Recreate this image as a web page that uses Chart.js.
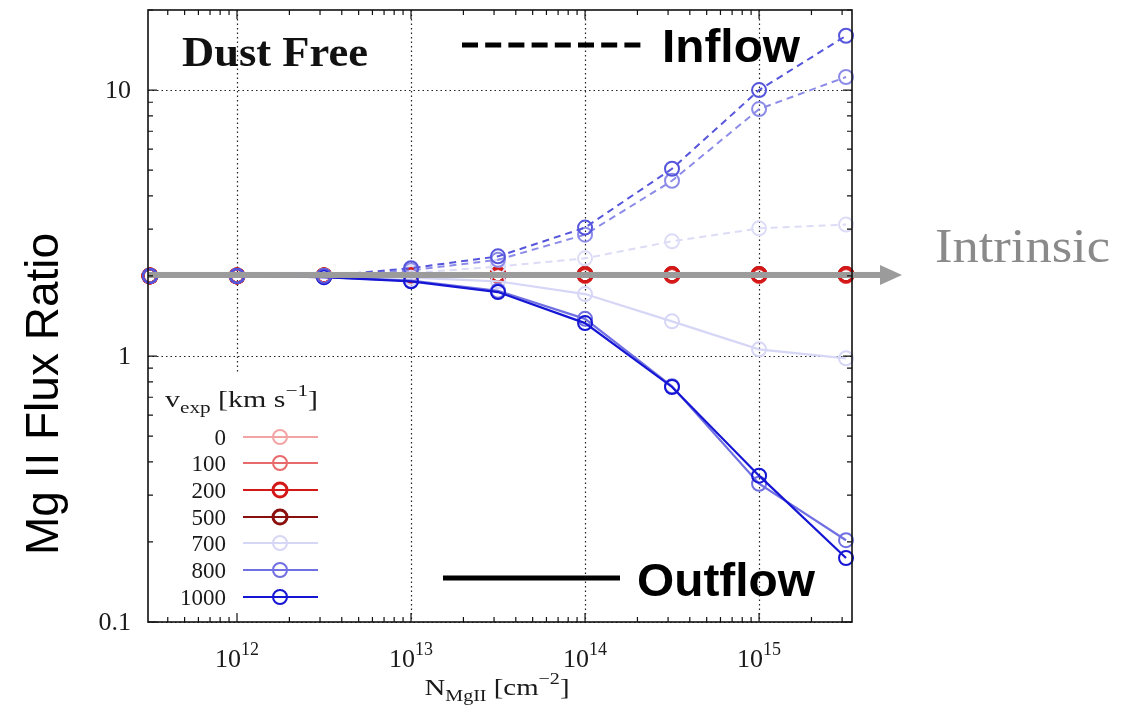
<!DOCTYPE html>
<html>
<head>
<meta charset="utf-8">
<script src="https://cdn.jsdelivr.net/npm/chart.js@4.4.1/dist/chart.umd.min.js"></script>
<style>
  html, body { margin: 0; padding: 0; background: #fff; }
  canvas { display: block; }
</style>
</head>
<body>
<canvas id="fluxChart" width="1128" height="710"></canvas>
<script>
// column density grid (cm^-2)
const columnDensity = [3.16e11, 1e12, 3.16e12, 1e13, 3.16e13, 1e14, 3.16e14, 1e15, 3.16e15];

// expansion velocities (km/s) and their colours
const velocityLabels = ['0', '100', '200', '500', '700', '800', '1000'];
const velocityColors = ['#f2a4a4', '#e86a6a', '#d41818', '#8a1010', '#d6d6f6', '#7070e2', '#1515d4'];
const inflowColors   = ['#f2a4a4', '#e86a6a', '#d41818', '#8a1010', '#dcdcf7', '#8c8ce8', '#5656dc'];

// flux ratio, inflow (dashed)
const inflowV0    = [2.0, 2.0, 2.0, 2.0, 2.0, 2.0, 2.0, 2.0, 2.0];
const inflowV100  = [2.0, 2.0, 2.0, 2.0, 2.0, 2.0, 2.0, 2.0, 2.0];
const inflowV200  = [2.0, 2.0, 2.0, 2.02, 2.02, 2.02, 2.02, 2.02, 2.02];
const inflowV500  = [2.0, 2.0, 2.0, 2.02, 2.02, 2.02, 2.02, 2.02, 2.02];
const inflowV700  = [2.0, 2.0, 2.0, 2.05, 2.17, 2.33, 2.70, 3.02, 3.12];
const inflowV800  = [2.0, 2.0, 2.0, 2.10, 2.30, 2.86, 4.56, 8.48, 11.2];
const inflowV1000 = [2.0, 2.0, 2.0, 2.14, 2.37, 3.04, 5.06, 10.0, 16.0];

// flux ratio, outflow (solid)
const outflowV0    = [2.0, 2.0, 2.0, 2.0, 2.0, 2.0, 2.0, 2.0, 2.0];
const outflowV100  = [2.0, 2.0, 2.0, 2.0, 2.0, 2.0, 2.0, 2.0, 2.0];
const outflowV200  = [2.0, 2.0, 2.0, 2.02, 2.02, 2.02, 2.02, 2.02, 2.02];
const outflowV500  = [2.0, 2.0, 2.0, 2.02, 2.02, 2.02, 2.02, 2.02, 2.02];
const outflowV700  = [2.0, 2.0, 1.99, 1.97, 1.91, 1.71, 1.35, 1.06, 0.98];
const outflowV800  = [2.0, 2.0, 1.98, 1.92, 1.76, 1.38, 0.77, 0.331, 0.203];
const outflowV1000 = [2.0, 2.0, 1.98, 1.91, 1.74, 1.33, 0.765, 0.355, 0.174];

// axis ticks
const xTickValues = [1e12, 1e13, 1e14, 1e15];
const xTickExponents = ['12', '13', '14', '15'];
const yTickValues = [0.1, 1, 10];
const yTickLabels = ['0.1', '1', '10'];

const intrinsicRatio = 2.0;

const inflowSets = [inflowV0, inflowV100, inflowV200, inflowV500, inflowV700, inflowV800, inflowV1000];
const outflowSets = [outflowV0, outflowV100, outflowV200, outflowV500, outflowV700, outflowV800, outflowV1000];
// stacking: lower draws on top
const drawOrder = [5, 4, 3, 6, 2, 1, 0];
const markerWidth = [2, 2, 3, 3, 2, 2, 2];

const SERIF = '"Liberation Serif", "Times New Roman", serif';
const SANS = '"Liberation Sans", Arial, sans-serif';

function toPoints(values) {
    return columnDensity.map((x, i) => ({ x: x, y: values[i] }));
}

const datasets = [];
velocityLabels.forEach((v, i) => {
    const base = {
        borderWidth: 2,
        pointRadius: 7,
        pointBorderWidth: markerWidth[i],
        pointBackgroundColor: 'rgba(0,0,0,0)',
        fill: false,
        tension: 0,
        clip: false,
        order: drawOrder[i]
    };
    datasets.push(Object.assign({}, base, {
        label: v + ' inflow', data: toPoints(inflowSets[i]), borderDash: [7, 5],
        borderColor: inflowColors[i], pointBorderColor: inflowColors[i]
    }));
    datasets.push(Object.assign({}, base, {
        label: v + ' outflow', data: toPoints(outflowSets[i]), borderWidth: 2.2,
        borderColor: velocityColors[i], pointBorderColor: velocityColors[i]
    }));
});

// text made of pieces in different fonts / offsets (sub/superscripts)
function drawRich(ctx, parts, x, y, align, width) {
    let w = 0;
    parts.forEach(p => { ctx.font = p[1]; w += ctx.measureText(p[0]).width; });
    const k = width ? width / w : 1;
    const total = w * k;
    const x0 = align === 'center' ? x - total / 2 : align === 'right' ? x - total : x;
    ctx.save();
    ctx.translate(x0, y);
    ctx.scale(k, 1);
    ctx.textAlign = 'left';
    ctx.textBaseline = 'alphabetic';
    let cx = 0;
    parts.forEach(p => {
        ctx.font = p[1];
        ctx.fillText(p[0], cx, p[2] || 0);
        cx += ctx.measureText(p[0]).width;
    });
    ctx.restore();
}

function minorValues(min, max) {
    const out = [];
    for (let e = Math.floor(Math.log10(min)); e <= Math.ceil(Math.log10(max)); e++) {
        for (let m = 1; m <= 9; m++) {
            const v = m * Math.pow(10, e);
            if (v >= min && v <= max) out.push({ v: v, major: m === 1 });
        }
    }
    return out;
}

const framePlugin = {
    id: 'frame',
    beforeDatasetsDraw(chart) {
        const { ctx, chartArea: a, scales: { x, y } } = chart;
        ctx.save();
        ctx.strokeStyle = '#222';
        ctx.lineWidth = 1.2;
        ctx.setLineDash([1.5, 3]);
        xTickValues.forEach(v => {
            const px = Math.round(x.getPixelForValue(v)) + 0.5;
            ctx.beginPath(); ctx.moveTo(px, a.top); ctx.lineTo(px, a.bottom); ctx.stroke();
        });
        yTickValues.forEach(v => {
            const py = Math.round(y.getPixelForValue(v)) + 0.5;
            ctx.beginPath(); ctx.moveTo(a.left, py); ctx.lineTo(a.right, py); ctx.stroke();
        });
        ctx.restore();
    },
    afterDatasetsDraw(chart) {
        const { ctx, chartArea: a, scales: { x, y } } = chart;
        ctx.save();

        // intrinsic ratio arrow
        const iy = y.getPixelForValue(intrinsicRatio) - 1;
        ctx.fillStyle = '#9b9b9b';
        ctx.fillRect(a.left, iy - 3, 882 - a.left, 6);
        ctx.beginPath();
        ctx.moveTo(880, iy - 10); ctx.lineTo(902, iy); ctx.lineTo(880, iy + 10);
        ctx.closePath(); ctx.fill();

        // key box
        const keyTop = 372;
        ctx.fillStyle = '#fff';
        ctx.fillRect(a.left + 1, keyTop, 182, a.bottom - keyTop - 1);

        // frame
        ctx.strokeStyle = '#111';
        ctx.lineWidth = 1.6;
        ctx.strokeRect(a.left, a.top, a.right - a.left, a.bottom - a.top);

        // inward ticks
        ctx.lineWidth = 1.2;
        minorValues(x.min, x.max).forEach(t => {
            const px = x.getPixelForValue(t.v);
            const len = t.major ? 9 : 5;
            ctx.beginPath();
            ctx.moveTo(px, a.bottom); ctx.lineTo(px, a.bottom - len);
            ctx.moveTo(px, a.top); ctx.lineTo(px, a.top + len);
            ctx.stroke();
        });
        minorValues(y.min, y.max).forEach(t => {
            const py = y.getPixelForValue(t.v);
            const len = t.major ? 9 : 5;
            ctx.beginPath();
            ctx.moveTo(a.left, py); ctx.lineTo(a.left + len, py);
            ctx.moveTo(a.right, py); ctx.lineTo(a.right - len, py);
            ctx.stroke();
        });

        // tick labels
        ctx.fillStyle = '#1a1a1a';
        xTickValues.forEach((v, i) => {
            drawRich(ctx, [['10', '26px ' + SERIF, 0], [xTickExponents[i], '18px ' + SERIF, -12]],
                x.getPixelForValue(v), 667, 'center');
        });
        yTickValues.forEach((v, i) => {
            drawRich(ctx, [[yTickLabels[i], '26px ' + SERIF, 0]], 131, y.getPixelForValue(v) + 8, 'right');
        });

        // axis titles
        drawRich(ctx, [['N', '23px ' + SERIF, 0], ['MgII', '16px ' + SERIF, 6], [' [cm', '23px ' + SERIF, 0],
            ['\u22122', '16px ' + SERIF, -11], [']', '23px ' + SERIF, 0]], 497, 695, 'center', 145);
        ctx.save();
        ctx.translate(58, 394);
        ctx.rotate(-Math.PI / 2);
        ctx.fillStyle = '#000';
        drawRich(ctx, [['Mg II Flux Ratio', '46px ' + SANS, 0]], 0, 0, 'center');
        ctx.restore();

        // key
        drawRich(ctx, [['v', '24px ' + SERIF, 0], ['exp', '17px ' + SERIF, 6], [' [km s', '24px ' + SERIF, 0],
            ['\u22121', '17px ' + SERIF, -11], [']', '24px ' + SERIF, 0]], 165, 407, 'left', 153);
        const rowY = [437, 463, 490, 517, 543, 570, 597];
        velocityLabels.forEach((v, i) => {
            ctx.fillStyle = '#1a1a1a';
            drawRich(ctx, [[v, '23px ' + SERIF, 0]], 226, rowY[i] + 8, 'right');
            ctx.strokeStyle = velocityColors[i];
            ctx.lineWidth = 2;
            ctx.beginPath(); ctx.moveTo(243, rowY[i]); ctx.lineTo(318, rowY[i]); ctx.stroke();
            ctx.lineWidth = markerWidth[i];
            ctx.beginPath(); ctx.arc(280, rowY[i], 7, 0, Math.PI * 2); ctx.stroke();
        });

        // labels
        ctx.fillStyle = '#111';
        drawRich(ctx, [['Dust Free', 'bold 43px ' + SERIF, 0]], 182, 66, 'left', 186);
        ctx.fillStyle = '#000';
        for (let i = 0; i < 8; i++) ctx.fillRect(462 + i * 23.2, 42.5, 16, 5);
        drawRich(ctx, [['Inflow', 'bold 46px ' + SANS, 0]], 662, 62, 'left', 138);
        ctx.fillRect(443, 575.5, 177, 5);
        drawRich(ctx, [['Outflow', 'bold 46px ' + SANS, 0]], 637, 596, 'left', 178);
        ctx.fillStyle = '#8a8a8a';
        drawRich(ctx, [['Intrinsic', '48px ' + SERIF, 0]], 935, 262, 'left', 175);

        ctx.restore();
    }
};

new Chart(document.getElementById('fluxChart').getContext('2d'), {
    type: 'line',
    data: { datasets: datasets },
    options: {
        responsive: false,
        animation: false,
        devicePixelRatio: 1,
        events: [],
        layout: { padding: { left: 148, right: 276, top: 8, bottom: 88 } },
        plugins: { legend: { display: false }, tooltip: { enabled: false } },
        scales: {
            x: { type: 'logarithmic', min: 3.08e11, max: 3.42e15, display: false },
            y: { type: 'logarithmic', min: 0.1, max: 20, display: false }
        }
    },
    plugins: [framePlugin]
});
</script>
</body>
</html>
